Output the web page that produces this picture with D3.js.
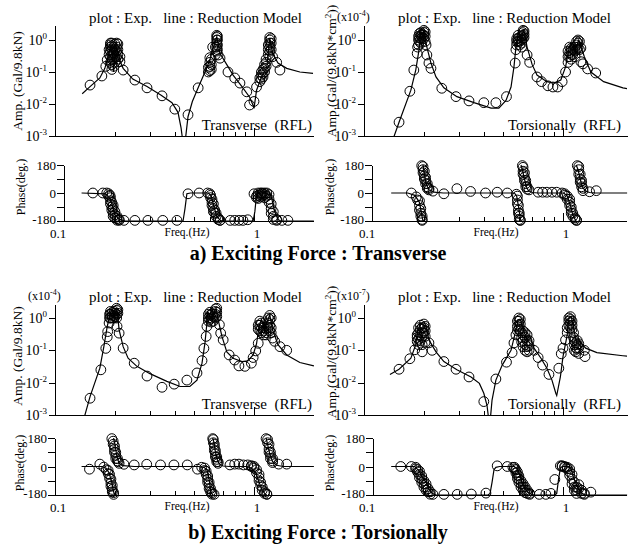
<!DOCTYPE html>
<html lang="en">
<head>
<meta charset="UTF-8">
<title>Frequency Response</title>
<script src="https://d3js.org/d3.v7.min.js"></script>
<style>
  body { margin: 0; background: #fff; }
  svg text { font-family: "Liberation Serif", "Times New Roman", serif; fill: #000; }
  .axis path, .axis line { stroke: #000; stroke-width: 1; shape-rendering: crispEdges; }
  .model { fill: none; stroke: #000; stroke-width: 1.2; }
  .exp { fill: none; stroke: #000; stroke-width: 1; }
</style>
</head>
<body>
<script>
// ticks
const freqMinor = [0.2, 0.3, 0.4, 0.5, 0.6, 0.7, 0.8, 0.9]
const freqMajor = [1]
const freqLabels = [0.1, 1]
const ampTicks = [1, 0.1, 0.01, 0.001]
const ampExp = ["0", "-1", "-2", "-3"]
const phaseTicks = [180, 90, 0, -90, -180]
const phaseLabels = [180, 0, -180]

// a) exciting force : transverse -> response transverse  [freq, amp]  ([freq, [amps]] = several points)
const aTransAmpLine = [[0.137,0.021],[0.15,0.035],[0.168,0.065],[0.178,0.13],[0.185,0.3],[0.19,0.6],[0.194,0.4],[0.197,0.1],[0.2,0.35],[0.204,0.6],[0.208,0.35],[0.215,0.18],[0.22,0.13],[0.246,0.06],[0.29,0.035],[0.34,0.019],[0.387,0.011],[0.415,0.0055],[0.43,0.0018],[0.44,0.0006],[0.45,0.0006],[0.466,0.004],[0.49,0.012],[0.524,0.032],[0.567,0.1],[0.6,0.24],[0.625,0.6],[0.65,1.25],[0.675,0.38],[0.73,0.17],[0.785,0.08],[0.87,0.035],[0.953,0.016],[0.99,0.009],[1.0,0.0073],[1.03,0.027],[1.09,0.07],[1.16,0.14],[1.18,0.4],[1.2,1.15],[1.24,0.38],[1.32,0.19],[1.46,0.13],[1.7,0.1],[1.98,0.09]]
const aTransAmpPts = [[0.15,0.039],[0.172,0.075],[0.183,0.24],[0.18,0.15],[0.187,[0.35,0.5]],[0.19,[0.8,0.7,0.6,0.45,0.3,0.2]],[0.193,[0.8,0.65,0.5,0.35,0.25,0.17,0.12]],[0.197,[0.6,0.4,0.25,0.15]],[0.2,[0.75,0.5,0.3,0.2]],[0.204,[0.8,0.6,0.45,0.3]],[0.207,[0.75,0.5,0.35,0.25]],[0.212,[0.3,0.21]],[0.22,0.115],[0.252,0.056],[0.29,0.032],[0.345,0.018],[0.4,0.0069],[0.466,0.0046],[0.524,0.032],[0.59,[0.1,0.14]],[0.6,[0.28,0.2,0.15,0.11]],[0.61,[0.25,0.17,0.12]],[0.62,0.6],[0.64,[0.6,0.35]],[0.65,[1.4,1.2,1.0,0.8,0.6,0.45]],[0.655,[1.3,1.0,0.7,0.5]],[0.66,0.34],[0.675,0.27],[0.74,0.1],[0.8,0.065],[0.85,0.045],[0.92,0.024],[0.95,0.0093],[1.0,0.012],[1.03,0.034],[1.07,[0.05,0.065]],[1.09,[0.06,0.08,0.1]],[1.11,[0.07,0.09,0.12]],[1.13,[0.1,0.13,0.17]],[1.15,[0.15,0.2,0.25]],[1.18,[0.35,0.5,0.7]],[1.2,[1.2,1.0,0.8,0.6,0.45,0.3]],[1.22,[1.1,0.8,0.5]],[1.24,0.3],[1.3,0.2],[1.35,0.115]]
const aTransPhaseLine = [[0.136,0],[0.18,-5],[0.19,-40],[0.195,-90],[0.2,-140],[0.21,-170],[0.225,-180],[0.44,-180],[0.45,-100],[0.46,-5],[0.48,0],[0.59,0],[0.61,-20],[0.63,-90],[0.65,-150],[0.68,-178],[0.7,-180],[0.99,-180],[1.01,-120],[1.03,-10],[1.05,0],[1.2,0],[1.23,-40],[1.27,-120],[1.32,-170],[1.36,-180],[2.0,-180]]
const aTransPhasePts = [[0.155,0],[0.174,0],[0.182,0],[0.189,-15],[0.186,[-5,-20]],[0.19,[-30,-50,-70]],[0.193,[-60,-90,-110]],[0.196,[-80,-100,-130,-150]],[0.2,[-120,-140,-160]],[0.205,[-150,-165,-175]],[0.21,[-170,-176]],[0.222,-176],[0.252,-176],[0.293,-176],[0.348,-176],[0.41,-176],[0.466,-5],[0.53,0],[0.585,0],[0.6,-5],[0.605,[-15,-30]],[0.615,[-40,-60,-80]],[0.625,[-70,-100,-120]],[0.635,[-110,-130]],[0.645,[-130,-150]],[0.66,[-160,-170]],[0.675,[-175,-176]],[0.76,-176],[0.8,-176],[0.84,-176],[0.88,-176],[0.93,-172],[1.0,-5],[1.03,[-20,-30]],[1.05,[0,-15,-35]],[1.08,[0,-10,-25]],[1.1,[0,-5,-20]],[1.13,[0,-10,-30]],[1.16,[0,-20]],[1.19,[-10,-40,-60]],[1.22,[-70,-100,-130]],[1.25,[-120,-150,-170]],[1.3,[-170,-176]],[1.38,-176],[1.48,-176]]

// a) exciting force : transverse -> response torsional
const aTorsAmpLine = [[0.14,0.0008],[0.15,0.0027],[0.172,0.027],[0.182,0.115],[0.189,0.49],[0.193,1.8],[0.197,1.2],[0.2,2.0],[0.207,0.6],[0.217,0.19],[0.23,0.07],[0.252,0.032],[0.293,0.017],[0.357,0.011],[0.435,0.0074],[0.476,0.0074],[0.517,0.013],[0.548,0.034],[0.567,0.145],[0.58,0.6],[0.595,1.6],[0.615,1.25],[0.637,2.0],[0.66,0.6],[0.7,0.17],[0.74,0.08],[0.83,0.05],[0.9,0.045],[0.975,0.056],[1.03,0.145],[1.07,0.49],[1.09,0.8],[1.15,0.49],[1.2,1.0],[1.28,0.3],[1.38,0.1],[1.6,0.05],[2.0,0.032],[2.1,0.03]]
const aTorsAmpPts = [[0.15,0.0027],[0.17,0.025],[0.178,0.115],[0.185,0.38],[0.186,0.6],[0.188,[1.0,1.3,0.7]],[0.19,[1.6,1.2,0.9]],[0.193,[1.7,1.4,1.1,0.8]],[0.196,[1.5,1.2]],[0.2,[2.0,1.7,1.4,1.1]],[0.203,[1.8,1.3,0.9]],[0.205,0.7],[0.207,0.34],[0.212,0.19],[0.217,0.13],[0.246,0.031],[0.29,0.017],[0.337,0.0125],[0.4,0.011],[0.46,0.011],[0.52,0.017],[0.575,0.19],[0.58,0.5],[0.585,[0.7,0.9,1.1]],[0.595,[1.4,1.1,0.9]],[0.605,[1.2,0.9,0.7]],[0.62,[1.3,1.0,0.8,0.6]],[0.63,[2.0,1.7,1.4,1.1]],[0.637,[1.9,1.5,1.2]],[0.66,0.34],[0.68,0.2],[0.74,0.07],[0.78,0.05],[0.84,0.037],[0.89,0.034],[0.94,0.034],[0.99,0.05],[1.03,0.1],[1.06,[0.2,0.3,0.45]],[1.08,[0.6,0.4,0.3]],[1.1,[0.55,0.45,0.35,0.25]],[1.12,[0.5,0.35]],[1.15,[0.6,0.45,0.3]],[1.17,[0.9,0.7,0.5]],[1.19,[1.0,0.8,0.6]],[1.21,[0.9,0.5]],[1.23,[0.56,0.21]],[1.26,0.18],[1.33,0.125],[1.46,0.093]]
const aTorsPhaseLine = [[0.137,0],[0.166,0],[0.18,-15],[0.19,-60],[0.195,-140],[0.198,-180],[0.198,null],[0.198,180],[0.2,140],[0.205,60],[0.212,20],[0.225,5],[0.25,0],[0.57,0],[0.585,-20],[0.6,-100],[0.61,-160],[0.615,-180],[0.615,null],[0.615,180],[0.625,150],[0.64,90],[0.655,40],[0.67,15],[0.7,3],[0.75,0],[1.01,0],[1.05,-20],[1.09,-80],[1.12,-140],[1.15,-170],[1.165,-180],[1.165,null],[1.165,180],[1.19,150],[1.22,90],[1.25,40],[1.3,12],[1.36,3],[1.45,0],[2.1,0]]
const aTorsPhasePts = [[0.173,0],[0.183,-25],[0.186,-45],[0.19,[-50,-80,-110]],[0.193,[-100,-130,-150]],[0.196,[-150,-170,-176]],[0.195,176],[0.198,[170,150,130]],[0.201,[140,110,90]],[0.204,[100,80,60]],[0.208,[60,40,30]],[0.212,[30,20]],[0.222,12],[0.252,-5],[0.293,28],[0.343,10],[0.408,0],[0.467,5],[0.525,0],[0.583,-8],[0.59,[-20,-45,-70]],[0.597,[-80,-110,-130]],[0.603,[-130,-150,-170]],[0.61,[-175,-176]],[0.625,176],[0.63,[165,140,120]],[0.64,[130,100,80]],[0.65,[80,60,40]],[0.66,[40,25]],[0.675,20],[0.75,5],[0.79,5],[0.83,5],[0.88,5],[0.93,5],[0.99,0],[1.02,[-5,-15]],[1.05,[-20,-40]],[1.08,[-40,-60,-80]],[1.1,[-90,-110,-130]],[1.12,[-130,-150]],[1.15,[-160,-170]],[1.17,[-175,-176]],[1.18,176],[1.2,[170,150,120]],[1.22,[120,90,70]],[1.24,[80,60,40]],[1.26,[30,15]],[1.36,8],[1.47,15]]

// b) exciting force : torsional -> response transverse
const bTransAmpLine = [[0.14,0.0008],[0.142,0.0011],[0.15,0.0037],[0.168,0.028],[0.176,0.13],[0.183,0.55],[0.19,1.45],[0.197,1.1],[0.205,1.8],[0.21,0.43],[0.22,0.13],[0.233,0.057],[0.258,0.032],[0.3,0.019],[0.365,0.011],[0.425,0.0076],[0.476,0.0076],[0.517,0.012],[0.548,0.04],[0.567,0.17],[0.58,0.7],[0.585,1.6],[0.61,0.9],[0.645,2.0],[0.66,0.9],[0.69,0.27],[0.73,0.09],[0.785,0.057],[0.87,0.045],[0.93,0.047],[0.99,0.072],[1.03,0.16],[1.06,0.55],[1.09,0.9],[1.13,0.45],[1.2,1.26],[1.24,0.43],[1.32,0.15],[1.46,0.072],[1.7,0.042],[2.0,0.033]]
const bTransAmpPts = [[0.15,0.0033],[0.17,0.025],[0.18,0.115],[0.183,0.26],[0.184,0.38],[0.187,0.7],[0.188,[1.3,1.0]],[0.19,[1.6,1.3,1.0]],[0.194,[1.5,1.2,1.0]],[0.198,[1.6,1.2,1.0]],[0.2,[1.4,1.1]],[0.204,[2.0,1.7,1.3,1.0]],[0.207,[1.8,1.4]],[0.205,0.55],[0.21,0.34],[0.22,0.117],[0.25,0.04],[0.29,0.016],[0.345,0.0072],[0.397,0.009],[0.46,0.012],[0.517,0.02],[0.548,0.048],[0.56,0.115],[0.575,0.27],[0.58,0.55],[0.59,[1.3,1.0,0.8]],[0.6,[1.5,1.2,0.9]],[0.61,[1.3,1.0,0.75]],[0.625,[1.1,0.8]],[0.64,[1.9,1.6,1.3,1.0]],[0.65,[2.0,1.5,1.1]],[0.67,0.62],[0.68,0.34],[0.7,0.21],[0.75,0.072],[0.8,0.05],[0.84,0.033],[0.9,0.032],[0.97,0.04],[0.99,0.06],[1.02,0.096],[1.05,[0.165,0.45,0.6]],[1.07,[0.8,0.6,0.4]],[1.09,[0.7,0.5,0.35]],[1.12,[0.5,0.4,0.3]],[1.15,[0.45,0.35,0.3]],[1.18,[1.0,0.7,0.5]],[1.2,[1.2,0.9,0.6,0.4]],[1.22,[1.0,0.5,0.35]],[1.24,0.24],[1.27,0.19],[1.35,0.13],[1.46,0.1]]
const bTransPhaseLine = [[0.136,0],[0.172,0],[0.18,-10],[0.187,-40],[0.193,-100],[0.197,-160],[0.2,-180],[0.2,null],[0.197,180],[0.2,140],[0.205,60],[0.21,20],[0.22,5],[0.25,0],[0.525,0],[0.56,-5],[0.58,-20],[0.595,-80],[0.605,-150],[0.615,-175],[0.625,-180],[0.625,null],[0.62,180],[0.63,150],[0.64,90],[0.655,40],[0.67,15],[0.7,3],[0.75,0],[0.92,0],[0.97,-10],[1.02,-40],[1.06,-100],[1.1,-150],[1.14,-175],[1.16,-180],[1.16,null],[1.15,180],[1.17,140],[1.2,80],[1.24,30],[1.3,8],[1.4,0],[2.0,0]]
const bTransPhasePts = [[0.149,-17],[0.168,15],[0.176,-4],[0.181,-20],[0.185,[-25,-45]],[0.188,[-50,-75]],[0.191,[-80,-105,-125]],[0.194,[-120,-145,-160]],[0.197,[-165,-176]],[0.193,176],[0.196,[160,140]],[0.199,[130,110,90]],[0.202,[90,70,50]],[0.206,[50,35]],[0.208,30],[0.21,20],[0.222,14],[0.25,10],[0.289,14],[0.339,10],[0.396,10],[0.462,10],[0.52,-17],[0.546,-5],[0.565,[-10,-25]],[0.575,[-30,-50]],[0.585,[-60,-80,-100]],[0.595,[-100,-120,-140]],[0.605,[-140,-160]],[0.615,[-165,-175]],[0.63,-176],[0.62,176],[0.625,[170,150]],[0.632,[140,120,100]],[0.64,[100,80,60]],[0.65,[60,45,30]],[0.66,[30,20]],[0.757,10],[0.8,15],[0.84,15],[0.885,10],[0.93,10],[0.97,[5,0]],[1.0,[0,-10]],[1.03,[-20,-40]],[1.06,[-50,-70,-90]],[1.08,[-100,-120]],[1.1,[-130,-150]],[1.13,[-160,-170]],[1.16,[-174,-176]],[1.15,176],[1.17,[170,150]],[1.19,[140,110,90]],[1.21,[90,70,50]],[1.24,[50,35,25]],[1.33,15],[1.46,15]]

// b) exciting force : torsional -> response torsional
const bTorsAmpLine = [[0.135,0.018],[0.15,0.026],[0.172,0.057],[0.182,0.15],[0.185,0.35],[0.193,0.7],[0.205,0.55],[0.212,0.21],[0.23,0.09],[0.252,0.045],[0.293,0.025],[0.345,0.015],[0.38,0.0095],[0.4,0.0047],[0.415,0.002],[0.425,0.0006],[0.43,0.0006],[0.44,0.0029],[0.46,0.012],[0.495,0.035],[0.548,0.1],[0.575,0.34],[0.595,0.9],[0.61,0.9],[0.645,0.3],[0.66,0.21],[0.68,0.28],[0.715,0.117],[0.775,0.057],[0.83,0.028],[0.88,0.012],[0.92,0.0047],[0.93,0.004],[0.97,0.015],[1.0,0.064],[1.05,0.3],[1.07,1.0],[1.1,1.1],[1.135,0.43],[1.17,0.17],[1.2,0.2],[1.3,0.117],[1.48,0.085],[2.0,0.068],[2.1,0.066]]
const bTorsAmpPts = [[0.15,0.026],[0.17,0.055],[0.18,0.104],[0.185,[0.19,0.3,0.25]],[0.188,[0.5,0.35,0.22,0.15]],[0.192,[0.6,0.45,0.3,0.2]],[0.196,[0.5,0.35,0.25,0.15,0.09]],[0.2,[0.65,0.5,0.35]],[0.203,[0.55,0.4,0.27,0.18]],[0.212,0.17],[0.22,0.1],[0.252,0.045],[0.29,0.026],[0.337,0.015],[0.4,0.0026],[0.46,0.013],[0.52,0.043],[0.555,0.085],[0.567,0.17],[0.58,0.3],[0.59,[0.8,0.55,0.4]],[0.6,[1.0,0.8,0.6,0.45]],[0.61,[0.9,0.65,0.4]],[0.62,[0.35,0.25,0.18]],[0.63,[0.4,0.3,0.2,0.13]],[0.645,[0.35,0.25,0.15,0.1]],[0.66,[0.3,0.2,0.13,0.09]],[0.675,[0.2,0.14,0.1]],[0.715,0.1],[0.75,0.06],[0.79,0.035],[0.85,0.018],[0.953,0.028],[0.98,0.078],[1.0,0.117],[1.03,0.21],[1.05,[0.35,0.5]],[1.07,[0.6,0.8,1.0]],[1.09,[1.1,0.9,0.7,0.5]],[1.11,[0.8,0.6,0.45]],[1.13,[0.35,0.25]],[1.14,[0.15,0.2,0.1]],[1.16,[0.17,0.12,0.09]],[1.18,[0.2,0.15,0.11]],[1.2,[0.16,0.12,0.08]],[1.28,0.1],[1.29,0.064]]
const bTorsPhaseLine = [[0.137,0],[0.18,0],[0.19,-30],[0.197,-70],[0.205,-100],[0.212,-140],[0.22,-170],[0.23,-180],[0.42,-180],[0.43,-170],[0.44,-100],[0.45,-20],[0.46,-5],[0.48,0],[0.57,0],[0.59,-20],[0.61,-60],[0.625,-110],[0.645,-140],[0.67,-165],[0.7,-178],[0.72,-180],[0.91,-180],[0.93,-170],[0.95,-80],[0.97,-10],[0.99,0],[1.08,0],[1.1,-20],[1.13,-70],[1.17,-120],[1.22,-160],[1.28,-178],[1.32,-180],[2.1,-180]]
const bTorsPhasePts = [[0.153,0],[0.173,0],[0.182,[-5,-15]],[0.186,[-20,-35]],[0.19,[-30,-50,-70]],[0.195,[-60,-80,-100]],[0.2,[-90,-110,-130]],[0.205,[-110,-130,-150]],[0.21,[-140,-160]],[0.215,[-160,-175]],[0.222,-176],[0.252,-176],[0.294,-176],[0.346,-174],[0.41,-168],[0.467,4],[0.525,0],[0.56,-5],[0.57,[-5,-15]],[0.58,[-20,-40]],[0.59,[-35,-55,-75]],[0.6,[-60,-80,-100]],[0.615,[-90,-110,-130]],[0.63,[-110,-130,-150]],[0.645,[-130,-150,-165]],[0.66,[-150,-170]],[0.68,[-170,-176]],[0.76,-176],[0.82,-176],[0.87,-170],[0.91,-82],[0.97,4],[0.99,[0,5]],[1.02,[0,-5]],[1.05,[-5,-15]],[1.08,[-15,-35,-55]],[1.11,[-50,-80,-110]],[1.14,[-100,-130,-150]],[1.17,[-130,-150,-170]],[1.2,[-115,-140]],[1.24,[-150,-170]],[1.28,[-170,-176]],[1.38,-162]]

const expand = rows => rows.flatMap(([f, v]) => Array.isArray(v) ? v.map(a => [f, a]) : [[f, v]])

const W = 628, H = 544
const decade = 199

const blocks = [
  { ampBase: 136, ampOne: 40, ampTop: 25, phLo: 221, phHi: 165, caption: "a) Exciting Force : Transverse", capY: 260 },
  { ampBase: 415, ampOne: 318, ampTop: 304, phLo: 495, phHi: 438, caption: "b) Exciting Force : Torsionally", capY: 539 }
]

const panels = [
  { block: 0, x0: 55, fMax: 2.0, ampLine: aTransAmpLine, ampPts: aTransAmpPts, phLine: aTransPhaseLine, phPts: aTransPhasePts,
    phAxisX: 64, ampTitle: "Amp. (Gal/9.8kN)", cm2: false, titleX: 22, titleY: 81, mult: null, tag: "Transverse  (RFL)", phTitleX: 25, phTitleY: 187 },
  { block: 0, x0: 364, fMax: 2.1, ampLine: aTorsAmpLine, ampPts: aTorsAmpPts, phLine: aTorsPhaseLine, phPts: aTorsPhasePts,
    phAxisX: 372, ampTitle: "Amp.(Gal/(9.8kN*cm", cm2: true, titleX: 336, titleY: 71, mult: "-4", tag: "Torsionally  (RFL)", phTitleX: 334, phTitleY: 187 },
  { block: 1, x0: 55, fMax: 2.0, ampLine: bTransAmpLine, ampPts: bTransAmpPts, phLine: bTransPhaseLine, phPts: bTransPhasePts,
    phAxisX: 55, ampTitle: "Amp. (Gal/9.8kN)", cm2: false, titleX: 22, titleY: 356, mult: "-4", tag: "Transverse  (RFL)", phTitleX: 24, phTitleY: 463 },
  { block: 1, x0: 364, fMax: 2.1, ampLine: bTorsAmpLine, ampPts: bTorsAmpPts, phLine: bTorsPhaseLine, phPts: bTorsPhasePts,
    phAxisX: 373, ampTitle: "Amp.(Gal/(9.8kN*cm", cm2: true, titleX: 336, titleY: 352, mult: "-7", tag: "Torsionally  (RFL)", phTitleX: 334, phTitleY: 463 }
]

const svg = d3.select("body").append("svg")
    .attr("width", W)
    .attr("height", H)
svg.append("rect").attr("width", W).attr("height", H).attr("fill", "#fff")

panels.forEach((p, i) => {
    const b = blocks[p.block]
    const x1 = p.x0 + decade * Math.log10(p.fMax / 0.1)
    const x = d3.scaleLog().domain([0.1, p.fMax]).range([p.x0, x1])
    const y = d3.scaleLog().domain([1e-3, 1]).range([b.ampBase, b.ampOne])
    y.domain([1e-3, y.invert(b.ampTop)]).range([b.ampBase, b.ampTop])
    const g = svg.append("g")

    // ---- amplitude ----
    g.append("clipPath").attr("id", "clip" + i)
        .append("rect").attr("x", p.x0).attr("y", b.ampTop)
        .attr("width", x1 - p.x0).attr("height", b.ampBase - b.ampTop)

    const ampLine = d3.line().x(d => x(d[0])).y(d => y(d[1]))
    g.append("path")
        .attr("class", "model")
        .attr("clip-path", "url(#clip" + i + ")")
        .attr("d", ampLine(p.ampLine))

    g.selectAll(".ampPt").data(expand(p.ampPts)).enter().append("circle")
        .attr("class", "exp")
        .attr("cx", d => x(d[0])).attr("cy", d => y(d[1])).attr("r", 4.9)

    g.append("g").attr("class", "axis")
        .attr("transform", "translate(" + p.x0 + ",0)")
        .call(d3.axisLeft(y).tickValues(ampTicks).tickSize(6).tickSizeOuter(0).tickFormat(""))
    g.append("g").attr("class", "axis")
        .attr("transform", "translate(0," + b.ampBase + ")")
        .call(d3.axisBottom(x).tickValues(freqMinor).tickSize(-4).tickSizeOuter(0).tickFormat(""))
    g.append("g").attr("class", "axis")
        .attr("transform", "translate(0," + b.ampBase + ")")
        .call(d3.axisBottom(x).tickValues(freqMajor).tickSize(-8).tickFormat(""))
        .select(".domain").remove()

    ampTicks.forEach((t, k) => {
        const lab = g.append("text")
            .attr("x", p.x0 - 8).attr("y", y(t) + 5)
            .attr("text-anchor", "end").style("font-size", "14px")
        lab.append("tspan").text("10")
        lab.append("tspan").attr("dy", -6).style("font-size", "9px").text(ampExp[k])
    })

    g.append("text")
        .attr("x", p.x0 + 34).attr("y", b.ampBase - 113)
        .style("font-size", "15px").style("white-space", "pre")
        .text("plot : Exp.   line : Reduction Model")
    g.append("text")
        .attr("x", p.x0 + 257).attr("y", b.ampBase - 6)
        .attr("text-anchor", "end")
        .style("font-size", "15px").style("white-space", "pre")
        .text(p.tag)

    if (p.mult) {
        const m = g.append("text")
            .attr("x", p.x0 - 27).attr("y", b.ampBase - 115)
            .style("font-size", "12px")
        m.append("tspan").text("(x10")
        m.append("tspan").attr("dy", -5).style("font-size", "8px").text(p.mult)
        m.append("tspan").attr("dy", 5).text(")")
    }

    const at = g.append("text")
        .attr("transform", "translate(" + p.titleX + "," + p.titleY + ") rotate(-90)")
        .attr("text-anchor", "middle")
        .style("font-size", "13.5px")
    at.append("tspan").text(p.ampTitle)
    if (p.cm2) {
        at.append("tspan").attr("dy", -5).style("font-size", "9px").text("2")
        at.append("tspan").attr("dy", 5).text("))")
    }

    // ---- phase ----
    const py = d3.scaleLinear().domain([-180, 180]).range([b.phLo, b.phHi])
    const phLine = d3.line()
        .defined(d => d[1] !== null)
        .x(d => x(d[0])).y(d => py(d[1]))
    g.append("path").attr("class", "model").attr("d", phLine(p.phLine))

    g.selectAll(".phPt").data(expand(p.phPts)).enter().append("circle")
        .attr("class", "exp")
        .attr("cx", d => x(d[0])).attr("cy", d => py(d[1])).attr("r", 4.9)

    g.append("g").attr("class", "axis")
        .attr("transform", "translate(" + p.phAxisX + ",0)")
        .call(d3.axisLeft(py).tickValues(phaseTicks).tickSize(7).tickSizeOuter(0).tickFormat(""))
    const xa = g.append("g").attr("class", "axis")
        .attr("transform", "translate(0," + b.phLo + ")")
        .call(d3.axisBottom(x).tickValues(freqMinor.concat(freqMajor)).tickSize(-4).tickFormat(""))
    xa.select(".domain").remove()
    xa.selectAll(".tick line").filter(d => d === 1).attr("y2", -8)
    g.append("line")
        .attr("x1", p.phAxisX).attr("x2", x1)
        .attr("y1", b.phLo).attr("y2", b.phLo)
        .attr("stroke", "#000").attr("shape-rendering", "crispEdges")

    phaseLabels.forEach(t => {
        g.append("text")
            .attr("x", p.phAxisX - 8).attr("y", py(t) + (t === -180 ? 3 : 5))
            .attr("text-anchor", "end").style("font-size", "13px")
            .text(t)
    })
    freqLabels.forEach(f => {
        g.append("text")
            .attr("x", x(f) + 3).attr("y", b.phLo + 17)
            .attr("text-anchor", "middle").style("font-size", "13px")
            .text(f)
    })
    g.append("text")
        .attr("x", p.x0 + 132).attr("y", b.phLo + 15)
        .attr("text-anchor", "middle").style("font-size", "11.5px")
        .text("Freq.(Hz)")
    g.append("text")
        .attr("transform", "translate(" + p.phTitleX + "," + p.phTitleY + ") rotate(-90)")
        .attr("text-anchor", "middle").style("font-size", "12px")
        .text("Phase(deg.)")
})

blocks.forEach(b => {
    svg.append("text")
        .attr("x", 318).attr("y", b.capY)
        .attr("text-anchor", "middle")
        .style("font-size", "20px").style("font-weight", "bold")
        .text(b.caption)
})
</script>
</body>
</html>
